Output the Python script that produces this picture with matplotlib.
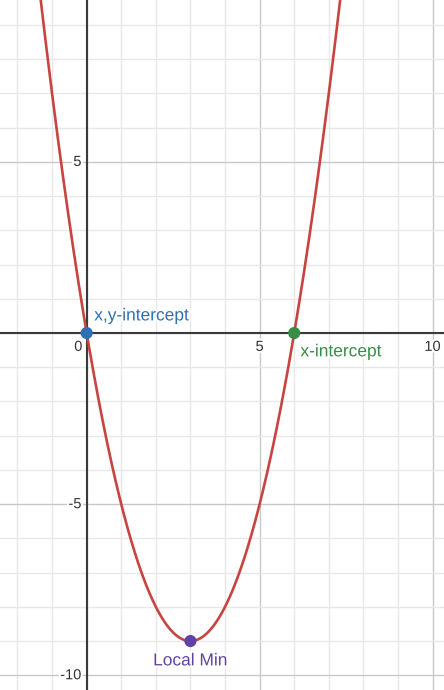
import numpy as np
import matplotlib
matplotlib.use('Agg')
from matplotlib import pyplot as plt
import matplotlib.patheffects as pe

# parabola y = x^2 - 6x
coeffs = [1, -6, 0]
pt_names = ['x,y-intercept', 'x-intercept', 'Local Min']
pt_x = [0, 6, 3]
pt_y = [0, 0, -9]
pt_colors = ['#2d70b3', '#388c46', '#6042a6']
x_ticks = [0, 5, 10]
y_ticks = [-10, -5, 5]

plt.rcParams['font.family'] = ['Liberation Sans', 'DejaVu Sans']

fig = plt.figure(figsize=(4.44, 6.90), dpi=100)
ax = fig.add_axes([0, 0, 1, 1])
xmin, xmax = -2.505, 10.33
ymin, ymax = -10.43, 9.73
ax.set_xlim(xmin, xmax)
ax.set_ylim(ymin, ymax)

#grid lines
for v in range(-2, 11):
    ax.axvline(v, color='#c8c8c8' if v % 5 == 0 else '#e8e8e8', lw=1, zorder=0)
for v in range(-10, 10):
    ax.axhline(v, color='#c8c8c8' if v % 5 == 0 else '#e8e8e8', lw=1, zorder=0)
ax.axvline(0, color='#3a3a3a', lw=1.5, zorder=1)
ax.axhline(0, color='#3a3a3a', lw=1.5, zorder=1)

#curve
xs = np.linspace(xmin, xmax, 600)
ax.plot(xs, np.polyval(coeffs, xs), color='#c74440', lw=1.9, zorder=2)

#tick labels
halo = [pe.withStroke(linewidth=3, foreground='white')]
for t in x_ticks:
    if t == 0:
        ax.text(-0.12, -0.2, '0', ha='right', va='top', fontsize=10.5, color='#333333', path_effects=halo)
    else:
        ax.text(t, -0.2, str(t), ha='center', va='top', fontsize=10.5, color='#333333', path_effects=halo)
for t in y_ticks:
    ax.text(-0.15, t, str(t), ha='right', va='center', fontsize=10.5, color='#333333', path_effects=halo)

#points and labels
ax.scatter(pt_x, pt_y, c=pt_colors, s=60, zorder=3)
ax.text(pt_x[0] + 0.22, pt_y[0] + 0.5, pt_names[0], color=pt_colors[0], fontsize=12.5, va='center', ha='left', path_effects=halo)
ax.text(pt_x[1] + 0.18, pt_y[1] - 0.55, pt_names[1], color=pt_colors[1], fontsize=12.5, va='center', ha='left', path_effects=halo)
ax.text(pt_x[2], pt_y[2] - 0.58, pt_names[2], color=pt_colors[2], fontsize=12.5, va='center', ha='center', path_effects=halo)

ax.set_xticks([])
ax.set_yticks([])
for s in ax.spines.values():
    s.set_visible(False)

fig.savefig('out.png', dpi=100)
